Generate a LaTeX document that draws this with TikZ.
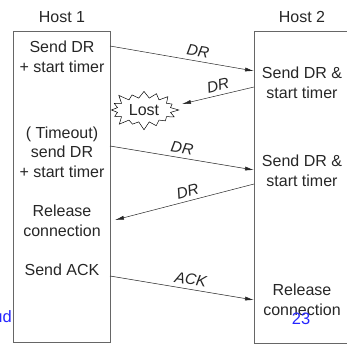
\documentclass[tikz,border=0pt]{standalone}
\usepackage{fontspec}
\setmainfont{Liberation Sans}
\usetikzlibrary{arrows.meta,shapes.symbols}
\tikzset{
  hostbox/.style={draw=gray!80!black, line width=0.8pt},
  hosttext/.style={align=center, text=black!85, font=\fontsize{16}{19.5}\selectfont},
  msg/.style={-{Latex[length=9pt,width=4pt]}, line width=0.5pt, draw=black!85},
  msglabel/.style={sloped, above, inner sep=4pt, text=black!85, font=\fontsize{15.5}{15.5}\selectfont\itshape},
  slidetext/.style={text=blue!85!white, font=\fontsize{16.5}{16.5}\selectfont}
}
\begin{document}
\begin{tikzpicture}[x=1pt,y=-1pt]
        \useasboundingbox (0,0) rectangle (347,344);
        \clip (0,0) rectangle (347,344);
        % the two hosts
        \draw[hostbox] (13,31) rectangle (110,342);
        \draw[hostbox] (254,31) rectangle (370,343);
        \node[hosttext] (host1) at (62,17) {Host 1};
        \node[hosttext] (host2) at (302,17) {Host 2};
        % host 1 side
        \node[hosttext] (senddr1) at (62,57) {Send DR\\+ start timer};
        \node[hosttext] (timeout) at (62,152) {( Timeout)\\send DR\\+ start timer};
        \node[hosttext] (release1) at (62,221) {Release\\connection};
        \node[hosttext] (sendack) at (62,270) {Send ACK};
        % host 2 side
        \node[hosttext] (senddr2) at (302,83) {Send DR \&\\start timer};
        \node[hosttext] (senddr3) at (302,171) {Send DR \&\\start timer};
        \node[hosttext] (release2) at (302,300) {Release\\connection};
        \node[starburst, draw, fill=white, line width=0.5pt, starburst points=16, starburst point height=9pt, inner xsep=4pt, inner ysep=3pt, hosttext] (lost) at (144,110) {Lost};
        % message ends
        \coordinate (a1) at (110,46);   \coordinate (b1) at (254,71);
        \coordinate (b2) at (254,87);   \coordinate (a2) at (182,104);
        \coordinate (a3) at (110,146);  \coordinate (b3) at (254,170);
        \coordinate (b4) at (254,184);  \coordinate (a4) at (115,220);
        \coordinate (a5) at (110,276);  \coordinate (b5) at (254,300);
        \draw[msg] (a1) -- (b1) node[msglabel, pos=0.6] {DR};
        \draw[msg] (b2) -- (a2) node[msglabel, pos=0.47] {DR};
        \draw[msg] (a3) -- (b3) node[msglabel, pos=0.49] {DR};
        \draw[msg] (b4) -- (a4) node[msglabel, pos=0.46] {DR};
        \draw[msg] (a5) -- (b5) node[msglabel, pos=0.55] {ACK};
        % slide leftovers
        \node[slidetext, anchor=east, inner sep=0pt] (cut) at (12,317) {ud};
        \node[slidetext] (pagenum) at (301,319) {23};
    \end{tikzpicture}
\end{document}
